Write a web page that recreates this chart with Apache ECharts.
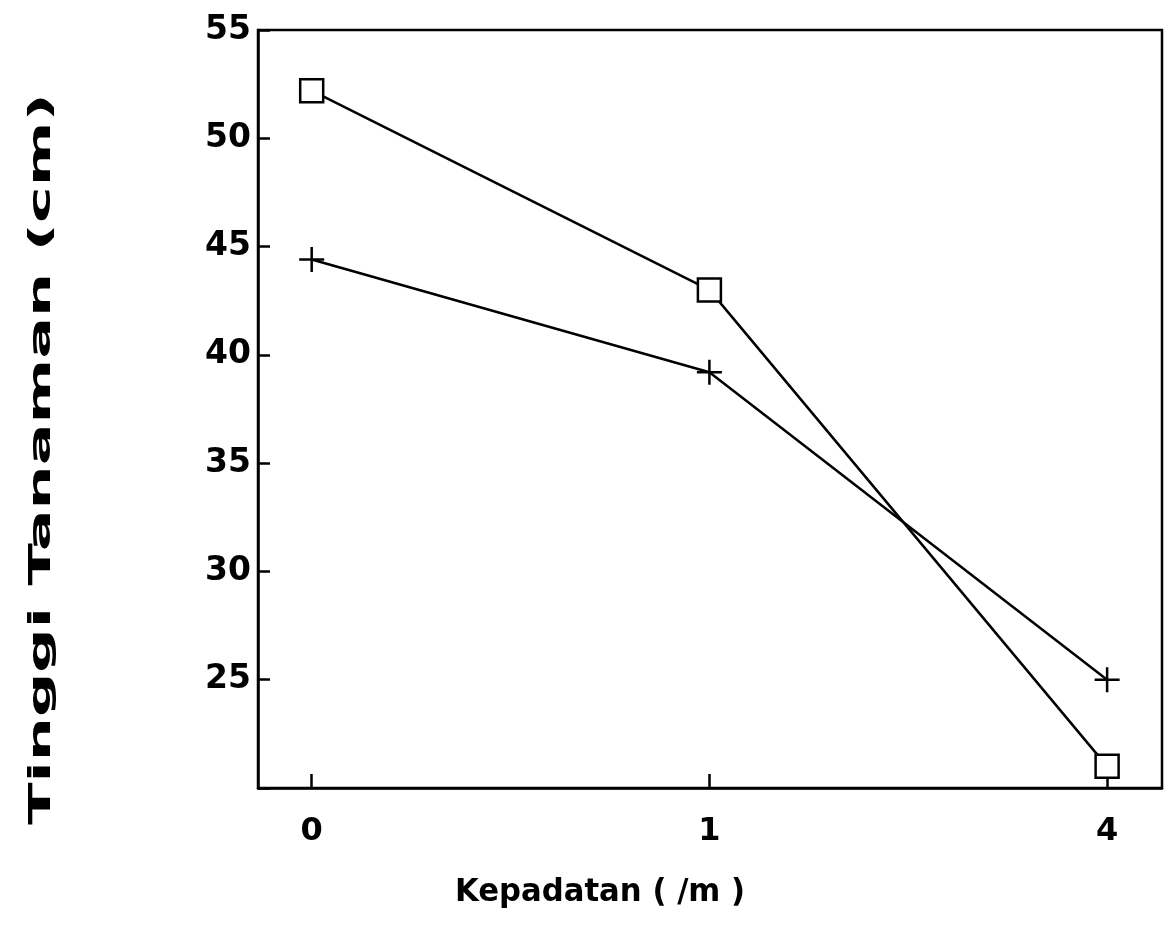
<!DOCTYPE html>
<html>
<head>
<meta charset="utf-8">
<script src="https://cdn.jsdelivr.net/npm/echarts@6/dist/echarts.min.js"></script>
<style>html,body{margin:0;padding:0;background:#fff}#chart{width:1175px;height:942px}</style>
</head>
<body>
<div id="chart"></div>
<script>
const categories = ['0', '1', '4'];
const squareSeries = [52.2, 43.0, 21.0];
const plusSeries = [44.4, 39.2, 25.0];
const yTickValues = [20, 25, 30, 35, 40, 45, 50, 55];
const xTitle = 'Kepadatan ( /m )';
const yTitle = 'Tinggi Tanaman (cm)';

const FONT = '"DejaVu Sans", sans-serif';
const chart = echarts.init(document.getElementById('chart'));
const idx = categories.map((c, i) => i);

chart.setOption({
  animation: false,
  backgroundColor: '#fff',
  grid: { left: 258, right: 13, top: 30, bottom: 154, show: true, borderColor: '#000', borderWidth: 2.5, backgroundColor: 'transparent' },
  xAxis: {
    type: 'value', min: -0.135, max: 2.138,
    axisLine: { show: true, onZero: false, lineStyle: { color: '#000', width: 2.5 } },
    axisTick: { show: true, inside: true, length: 14, lineStyle: { color: '#000', width: 2.5 }, customValues: idx },
    axisLabel: { customValues: idx, formatter: v => categories[Math.round(v)], color: '#000', fontFamily: FONT, fontWeight: 'bold', fontSize: 32, margin: 28 },
    splitLine: { show: false }
  },
  yAxis: {
    type: 'value', min: yTickValues[0], max: yTickValues[yTickValues.length - 1], interval: 5,
    axisLine: { show: true, onZero: false, lineStyle: { color: '#000', width: 2.5 } },
    axisTick: { show: true, inside: true, length: 12, lineStyle: { color: '#000', width: 2.5 } },
    axisLabel: { formatter: v => (v === yTickValues[0] ? '' : String(v)), color: '#000', fontFamily: FONT, fontWeight: 'bold', fontSize: 33, margin: 7 },
    splitLine: { show: false }
  },
  graphic: [
    { type: 'text', x: 42, y: 459, rotation: Math.PI / 2, scaleX: 2.0, style: { text: yTitle, font: 'bold 31px "DejaVu Sans"', fill: '#000', textAlign: 'center', textVerticalAlign: 'middle' } },
    { type: 'text', x: 600, y: 893, scaleX: 0.96, style: { text: xTitle, font: 'bold 32px "DejaVu Sans"', fill: '#000', textAlign: 'center', textVerticalAlign: 'middle' } }
  ],
  series: [
    {
      type: 'line', data: squareSeries.map((v, i) => [idx[i], v]),
      symbol: 'rect', symbolSize: 23,
      lineStyle: { color: '#000', width: 2.5 },
      itemStyle: { color: '#fff', borderColor: '#000', borderWidth: 2.5 },
      z: 3
    },
    {
      type: 'line', data: plusSeries.map((v, i) => [idx[i], v]),
      symbol: 'path://M0,10L20,10M10,0L10,20', symbolSize: 25,
      lineStyle: { color: '#000', width: 2.5 },
      itemStyle: { color: 'none', borderColor: '#000', borderWidth: 2.5 },
      z: 4
    }
  ]
});
</script>
</body>
</html>
